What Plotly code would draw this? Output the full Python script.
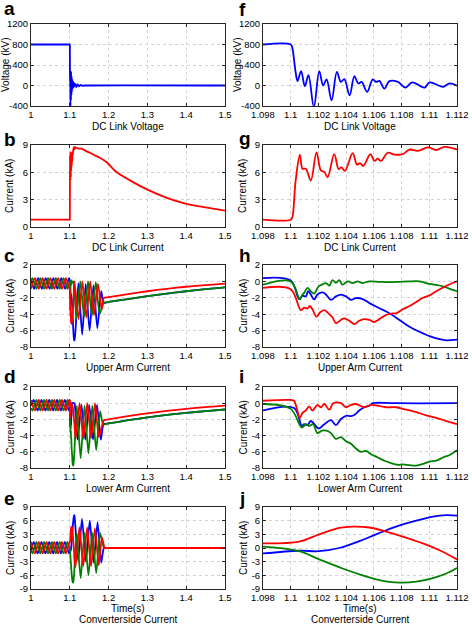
import plotly.graph_objects as go
from plotly.subplots import make_subplots

# ---------------- data ----------------
# f: DC link voltage (zoom)
f_t = [1.098, 1.1, 1.10012, 1.10024, 1.10036, 1.10049, 1.10075, 1.10102, 1.10128, 1.10167, 1.10206,
       1.10234, 1.10259, 1.10295, 1.10333, 1.10362, 1.10387, 1.10425, 1.10459, 1.10488, 1.10512,
       1.10551, 1.10592, 1.10616, 1.1064, 1.10676, 1.10712, 1.10773, 1.10828, 1.10877, 1.10966,
       1.11002, 1.11099, 1.11147, 1.112]
f_v = [800, 800, 730, 500, 250, 85, 280, -13, 200, -420, 280,
       0, 120, -290, 265, 70, 125, -190, 180, 40, 70,
       -125, 120, 70, 90, -60, 85, 70, -40, 60, -40,
       60, -25, 40, -5]
# a: DC link voltage (full)
a_pre_t = [1.0]
a_pre_v = [800]
a_post_t = [1.114, 1.117, 1.12, 1.124, 1.128, 1.133, 1.14, 1.5]
a_post_v = [30, -30, 20, -15, 10, -5, 0, 0]

# g: DC link current (zoom)
g_t = [1.098, 1.1, 1.10012, 1.10035, 1.10066, 1.10085, 1.10109, 1.10145, 1.10186, 1.10218, 1.10242,
       1.10266, 1.10314, 1.10346, 1.10365, 1.10391, 1.10447, 1.10478, 1.105, 1.10524, 1.10575,
       1.10604, 1.10628, 1.10652, 1.107, 1.10749, 1.10809, 1.10857, 1.10918, 1.1099, 1.1105,
       1.11111, 1.112]
g_v = [0.8, 0.8, 1.1, 5.0, 7.9, 6.4, 6.4, 5.1, 8.2, 6.2, 6.05,
       5.45, 8.0, 6.35, 6.55, 6.15, 8.1, 6.85, 7.0, 6.7, 8.0,
       7.25, 7.5, 7.25, 8.15, 7.95, 8.0, 8.5, 8.35, 8.75, 8.45,
       8.8, 8.5]
# b: DC link current (full)
b_pre_t = [1.0]
b_pre_v = [0.8]
b_post_t = [1.115, 1.122, 1.1306, 1.1435, 1.152, 1.165, 1.175, 1.195, 1.221, 1.264, 1.3, 1.35, 1.4, 1.45, 1.5]
b_post_v = [8.75, 8.6, 8.6, 8.3, 8.15, 7.85, 7.65, 7.1, 6.0, 4.9, 4.1, 3.2, 2.55, 2.15, 1.8]

# h: upper arm current (zoom)
h_blue_t = [1.098, 1.1, 1.10061, 1.10085, 1.10109, 1.10126, 1.10145, 1.10169, 1.10193, 1.1023,
            1.10254, 1.1029, 1.10326, 1.10362, 1.10399, 1.10435, 1.10471, 1.10519, 1.10568, 1.1064,
            1.10712, 1.10785, 1.10857, 1.1093, 1.11002, 1.11074, 1.11123, 1.112]
h_blue_v = [0.4, 0.1, -2.15, -1.75, -1.83, -1.2, -1.6, -2.2, -1.6, -1.35,
            -1.6, -2.25, -1.83, -1.62, -1.83, -2.25, -2.03, -2.15, -2.65, -3.27,
            -3.88, -4.7, -5.53, -6.15, -6.68, -7.05, -7.18, -7.1]
h_green_t = [1.098, 1.1, 1.10066, 1.10085, 1.10097, 1.10121, 1.10145, 1.10169, 1.10201, 1.10225,
             1.10254, 1.10278, 1.10302, 1.10326, 1.1035, 1.10374, 1.10411, 1.10447, 1.10483, 1.10519,
             1.10568, 1.1064, 1.10712, 1.10785, 1.10857, 1.1093, 1.11002, 1.11074, 1.11147, 1.112]
h_green_v = [-0.4, 0.0, -2.2, -1.6, -1.4, -0.8, -1.2, -1.5, -0.6, -0.4,
             -0.2, -0.5, 0.15, -0.18, 0.15, -0.4, 0.0, -0.2, 0.0, -0.2,
             0.0, -0.05, -0.1, -0.05, 0.0, 0.0, -0.3, -0.5, -0.9, -1.2]
h_red_t = [1.098, 1.1, 1.10073, 1.10097, 1.10121, 1.10138, 1.10157, 1.10186, 1.1021, 1.10242,
           1.10266, 1.10302, 1.10326, 1.10362, 1.10387, 1.10423, 1.10459, 1.10495, 1.10531, 1.10568,
           1.10604, 1.1064, 1.10688, 1.10736, 1.1076, 1.10809, 1.10857, 1.10906, 1.10954, 1.11002,
           1.1105, 1.11099, 1.11147, 1.112]
h_red_v = [-0.8, -0.95, -3.5, -3.2, -3.3, -3.0, -3.4, -4.3, -3.8, -3.5,
           -3.8, -4.4, -5.1, -4.7, -4.5, -4.8, -5.2, -4.8, -4.6, -4.7,
           -4.95, -4.6, -4.1, -3.9, -3.9, -3.4, -3.0, -2.5, -2.0, -1.7,
           -1.2, -0.75, -0.35, 0.0]
# c: upper arm current (full)
c_blue_pre_t = [1.0, 1.008, 1.018, 1.028, 1.038, 1.048, 1.058, 1.068, 1.078, 1.088]
c_blue_pre_v = [0.3, -0.9, 0.4, -0.9, 0.4, -0.9, 0.4, -0.9, 0.4, -0.9]
c_blue_post_t = [1.113, 1.122, 1.132, 1.141, 1.151, 1.161, 1.171, 1.181, 1.187, 1.2, 1.25, 1.3, 1.35, 1.4, 1.45, 1.5]
c_blue_post_v = [-7.2, -0.2, -6.5, -0.3, -6.0, -0.5, -5.7, -1.2, -2.6, -2.5, -2.15, -1.8, -1.5, -1.2, -0.95, -0.72]
c_green_pre_t = [1.0, 1.004, 1.014, 1.024, 1.034, 1.044, 1.054, 1.064, 1.074, 1.084, 1.094]
c_green_pre_v = [0.1, 0.4, -0.9, 0.4, -0.9, 0.4, -0.9, 0.4, -0.9, 0.4, -0.9]
c_green_post_t = [1.117, 1.127, 1.137, 1.147, 1.157, 1.167, 1.177, 1.187, 1.2, 1.25, 1.3, 1.35, 1.4, 1.45, 1.5]
c_green_post_v = [-4.5, 0.0, -4.3, 0.0, -4.2, -0.1, -4.0, -2.6, -2.5, -2.15, -1.8, -1.5, -1.2, -0.95, -0.72]
c_red_pre_t = [1.0, 1.01, 1.02, 1.03, 1.04, 1.05, 1.06, 1.07, 1.08, 1.09]
c_red_pre_v = [-0.9, 0.4, -0.9, 0.4, -0.9, 0.4, -0.9, 0.4, -0.9, 0.4]
c_red_post_t = [1.1225, 1.1325, 1.1425, 1.1525, 1.1625, 1.1725, 1.1825, 1.188, 1.2, 1.25, 1.3, 1.35, 1.4, 1.45, 1.5]
c_red_post_v = [-4.6, 0.0, -4.4, 0.0, -4.1, -0.3, -3.4, -2.0, -1.93, -1.55, -1.2, -0.9, -0.65, -0.45, -0.27]

# i: lower arm current (zoom)
i_blue_t = [1.098, 1.10024, 1.1008, 1.10097, 1.10121, 1.10145, 1.10201, 1.10242, 1.1029, 1.10326,
            1.10362, 1.10399, 1.10435, 1.10459, 1.10495, 1.10531, 1.10568, 1.10592, 1.10616, 1.1076, 1.112]
i_blue_v = [-0.9, -0.6, -2.8, -2.6, -2.7, -2.2, -3.1, -2.6, -2.1, -2.7,
            -1.95, -1.55, -1.6, -1.45, -0.9, -0.5, -0.3, 0.0, 0.05, 0.0, 0.0]
i_green_t = [1.098, 1.1, 1.1008, 1.10109, 1.10133, 1.10162, 1.10193, 1.10225, 1.10259, 1.1029,
             1.10326, 1.10362, 1.10399, 1.10435, 1.10471, 1.10507, 1.10543, 1.1058, 1.10628, 1.10676,
             1.10724, 1.10773, 1.10809, 1.10857, 1.10906, 1.10954, 1.11002, 1.1105, 1.11099, 1.11147, 1.112]
i_green_v = [-0.1, -0.7, -3.0, -2.6, -2.8, -2.6, -3.7, -3.4, -3.4, -3.7,
             -4.4, -4.2, -4.7, -5.0, -5.6, -6.0, -5.9, -6.3, -6.7, -7.1,
             -7.4, -7.6, -7.55, -7.65, -7.7, -7.5, -7.2, -7.1, -6.7, -6.4, -5.8]
i_red_t = [1.098, 1.1, 1.10024, 1.10066, 1.10085, 1.10109, 1.10133, 1.10157, 1.10193, 1.10218,
           1.10242, 1.10278, 1.10307, 1.10362, 1.10399, 1.10435, 1.10471, 1.10531, 1.1058, 1.10628,
           1.10688, 1.1076, 1.10833, 1.10906, 1.10978, 1.1105, 1.11123, 1.112]
i_red_v = [0.3, 0.4, 0.3, -1.8, -1.2, -0.9, -0.4, -0.9, -0.2, -0.5,
           -0.1, -0.8, 0.0, 0.0, -0.5, -0.2, -0.1, -0.5, -0.2, -0.3,
           -0.5, -0.5, -0.8, -1.1, -1.5, -1.8, -2.2, -2.6]
# d: lower arm current (full)
d_blue_pre_t = [1.0, 1.007, 1.017, 1.027, 1.037, 1.047, 1.057, 1.067, 1.077, 1.087]
d_blue_pre_v = [-0.3, 0.4, -0.9, 0.4, -0.9, 0.4, -0.9, 0.4, -0.9, 0.4]
d_blue_post_t = [1.114, 1.12, 1.13, 1.14, 1.15, 1.16, 1.17, 1.18, 1.187, 1.2, 1.25, 1.3, 1.35, 1.4, 1.45, 1.5]
d_blue_post_v = [-0.8, -4.5, -0.2, -4.5, -0.2, -4.5, -0.2, -4.5, -2.6, -2.5, -2.1, -1.75, -1.45, -1.2, -0.98, -0.78]
d_green_pre_t = [1.0, 1.004, 1.014, 1.024, 1.034, 1.044, 1.054, 1.064, 1.074, 1.084, 1.094]
d_green_pre_v = [-0.6, -0.9, 0.4, -0.9, 0.4, -0.9, 0.4, -0.9, 0.4, -0.9, 0.4]
d_green_post_t = [1.118, 1.128, 1.138, 1.148, 1.158, 1.168, 1.178, 1.186, 1.2, 1.25, 1.3, 1.35, 1.4, 1.45, 1.5]
d_green_post_v = [-0.3, -6.8, -0.3, -6.2, -0.3, -5.8, -1.0, -2.6, -2.5, -2.1, -1.75, -1.45, -1.2, -0.98, -0.78]
d_red_pre_t = [1.0, 1.01, 1.02, 1.03, 1.04, 1.05, 1.06, 1.07, 1.08, 1.09]
d_red_pre_v = [0.4, -0.9, 0.4, -0.9, 0.4, -0.9, 0.4, -0.9, 0.4, -0.9]
d_red_post_t = [1.115, 1.125, 1.135, 1.145, 1.155, 1.165, 1.175, 1.188, 1.2, 1.25, 1.3, 1.35, 1.4, 1.45, 1.5]
d_red_post_v = [-4.4, 0.0, -4.4, 0.0, -4.3, 0.0, -4.2, -2.1, -2.0, -1.6, -1.25, -0.95, -0.7, -0.48, -0.3]

# j: converter side current (zoom)
j_blue_t = [1.098, 1.10061, 1.10206, 1.1035, 1.10495, 1.10616, 1.1076, 1.10906, 1.11026, 1.11123, 1.112]
j_blue_v = [-1.2, -0.6, -0.7, 0.0, 1.5, 3.0, 4.7, 6.0, 6.9, 7.2, 7.1]
j_green_t = [1.098, 1.10061, 1.10206, 1.10374, 1.10519, 1.10664, 1.10785, 1.10906, 1.11026, 1.11123, 1.112]
j_green_v = [0.3, -0.7, -2.5, -4.5, -6.0, -7.2, -7.6, -7.4, -6.6, -5.6, -4.4]
j_red_t = [1.098, 1.10061, 1.10206, 1.1035, 1.10447, 1.10568, 1.10688, 1.10809, 1.10954, 1.11074, 1.112]
j_red_v = [1.0, 1.4, 3.0, 4.4, 4.7, 4.5, 3.6, 2.5, 1.0, -0.5, -2.5]
# e: converter side current (full)
e_blue_pre_t = [1.0, 1.007, 1.017, 1.027, 1.037, 1.047, 1.057, 1.067, 1.077, 1.087]
e_blue_pre_v = [-0.6, 1.35, -1.2, 1.35, -1.2, 1.35, -1.2, 1.35, -1.2, 1.35]
e_blue_post_t = [1.1215, 1.1315, 1.1415, 1.1515, 1.1615, 1.1715, 1.181, 1.188, 1.195, 1.5]
e_blue_post_v = [-2.8, 6.4, -3.0, 6.0, -3.2, 5.6, -3.2, 0.0, 0.0, 0.0]
e_green_pre_t = [1.0, 1.004, 1.014, 1.024, 1.034, 1.044, 1.054, 1.064, 1.074, 1.084, 1.094]
e_green_pre_v = [-0.5, -1.2, 1.35, -1.2, 1.35, -1.2, 1.35, -1.2, 1.35, -1.2, 1.35]
e_green_post_t = [1.118, 1.128, 1.138, 1.148, 1.158, 1.168, 1.178, 1.188, 1.195, 1.5]
e_green_post_v = [3.2, -6.6, 3.3, -6.0, 3.3, -5.5, 3.3, 0.0, 0.0, 0.0]
e_red_pre_t = [1.0, 1.01, 1.02, 1.03, 1.04, 1.05, 1.06, 1.07, 1.08, 1.09]
e_red_pre_v = [1.35, -1.2, 1.35, -1.2, 1.35, -1.2, 1.35, -1.2, 1.35, -1.2]
e_red_post_t = [1.1147, 1.1247, 1.1347, 1.1447, 1.1547, 1.1647, 1.1747, 1.1827, 1.19, 1.195, 1.5]
e_red_post_v = [-4.2, 4.5, -4.0, 4.5, -4.0, 4.3, -3.8, 2.3, 0.0, 0.0, 0.0]

# ticks
left_xticks = [1.0, 1.1, 1.2, 1.3, 1.4, 1.5]
left_xtext = ["1", "1.1", "1.2", "1.3", "1.4", "1.5"]
right_xticks = [1.098, 1.1, 1.102, 1.104, 1.106, 1.108, 1.11, 1.112]
right_xtext = ["1.098", "1.1", "1.102", "1.104", "1.106", "1.108", "1.11", "1.112"]
volt_ticks = [-400, 0, 400, 800, 1200]
volt_text = ["-400", "0", "400", "800", "1200"]
dc_ticks = [0, 3, 6, 9]
dc_text = ["0", "3", "6", "9"]
arm_ticks = [-8, -6, -4, -2, 0, 2]
arm_text = ["-8", "-6", "-4", "-2", "0", "2"]
conv_ticks = [-9, -6, -3, 0, 3, 6, 9]
conv_text = ["-9", "-6", "-3", "0", "3", "6", "9"]

subtitles = ["DC Link Voltage", "DC Link Current", "Upper Arm Current", "Lower Arm Current",
             "Converterside Current"]
time_label = "Time(s)"
letters_left = ["a", "b", "c", "d", "e"]
letters_right = ["f", "g", "h", "i", "j"]

BLUE, GREEN, RED = "#0000ff", "#008000", "#ff0000"
FONT = "Liberation Sans, Arial, sans-serif"

# ---------------- figure ----------------
W, H = 472, 625
fig = make_subplots(rows=5, cols=2)

def line(t, v, color, row, col, width=1.8, smoothing=0.6):
    fig.add_trace(go.Scatter(x=t, y=v, mode="lines", showlegend=False, hoverinfo="skip",
                             line=dict(color=color, width=width, shape="spline", smoothing=smoothing)),
                  row=row, col=col)

# row 1
line(a_pre_t + f_t + a_post_t, a_pre_v + f_v + a_post_v, BLUE, 1, 1)
line(f_t, f_v, BLUE, 1, 2, smoothing=1.0)
# row 2
line(b_pre_t + g_t + b_post_t, b_pre_v + g_v + b_post_v, RED, 2, 1)
line(g_t, g_v, RED, 2, 2, smoothing=1.0)
# row 3
line(c_blue_pre_t + h_blue_t + c_blue_post_t, c_blue_pre_v + h_blue_v + c_blue_post_v, BLUE, 3, 1)
line(c_green_pre_t + h_green_t + c_green_post_t, c_green_pre_v + h_green_v + c_green_post_v, GREEN, 3, 1)
line(c_red_pre_t + h_red_t + c_red_post_t, c_red_pre_v + h_red_v + c_red_post_v, RED, 3, 1)
line(h_blue_t, h_blue_v, BLUE, 3, 2, smoothing=1.0)
line(h_green_t, h_green_v, GREEN, 3, 2, smoothing=1.0)
line(h_red_t, h_red_v, RED, 3, 2, smoothing=1.0)
# row 4
line(d_blue_pre_t + i_blue_t + d_blue_post_t, d_blue_pre_v + i_blue_v + d_blue_post_v, BLUE, 4, 1)
line(d_green_pre_t + i_green_t + d_green_post_t, d_green_pre_v + i_green_v + d_green_post_v, GREEN, 4, 1)
line(d_red_pre_t + i_red_t + d_red_post_t, d_red_pre_v + i_red_v + d_red_post_v, RED, 4, 1)
line(i_blue_t, i_blue_v, BLUE, 4, 2, smoothing=1.0)
line(i_green_t, i_green_v, GREEN, 4, 2, smoothing=1.0)
line(i_red_t, i_red_v, RED, 4, 2, smoothing=1.0)
# row 5
line(e_blue_pre_t + j_blue_t + e_blue_post_t, e_blue_pre_v + j_blue_v + e_blue_post_v, BLUE, 5, 1)
line(e_green_pre_t + j_green_t + e_green_post_t, e_green_pre_v + j_green_v + e_green_post_v, GREEN, 5, 1)
line(e_red_pre_t + j_red_t + e_red_post_t, e_red_pre_v + j_red_v + e_red_post_v, RED, 5, 1)
line(j_blue_t, j_blue_v, BLUE, 5, 2, smoothing=1.0)
line(j_green_t, j_green_v, GREEN, 5, 2, smoothing=1.0)
line(j_red_t, j_red_v, RED, 5, 2, smoothing=1.0)

ROWS = [(24, 106), (145, 227), (265, 347), (387, 468), (507, 589)]
COLS = [(31, 225), (263, 457)]
yspecs = [([-400, 1200], volt_ticks, volt_text, "Voltage (kV)"),
          ([0, 9], dc_ticks, dc_text, "Current (kA)"),
          ([-8, 2], arm_ticks, arm_text, "Current (kA)"),
          ([-8, 2], arm_ticks, arm_text, "Current (kA)"),
          ([-9, 9], conv_ticks, conv_text, "Current (kA)")]

common = dict(showgrid=True, gridcolor="#d4d4d4", griddash="dot", gridwidth=1,
              showline=True, linecolor="#262626", linewidth=1, mirror="ticks",
              ticks="inside", ticklen=3, tickcolor="#262626", zeroline=False,
              automargin=False, tickangle=0,
              tickfont=dict(family=FONT, size=9.5, color="black"))

annotations = []
for r in range(5):
    top, bot = ROWS[r]
    yr, yt, ytx, ytitle = yspecs[r]
    for c in range(2):
        n = r * 2 + c + 1
        sfx = "" if n == 1 else str(n)
        x0, x1 = COLS[c]
        xr = [1.0, 1.5] if c == 0 else [1.098, 1.112]
        xt, xtx = (left_xticks, left_xtext) if c == 0 else (right_xticks, right_xtext)
        fig.layout["xaxis" + sfx].update(domain=[x0 / W, x1 / W], range=xr, tickvals=xt,
                                         ticktext=xtx, **common)
        fig.layout["yaxis" + sfx].update(domain=[1 - bot / H, 1 - top / H], range=yr,
                                         tickvals=yt, ticktext=ytx, **common)
        xc = (x0 + x1) / 2 / W
        if r < 4:
            annotations.append(dict(text=subtitles[r], x=xc, y=1 - (bot + 20) / H,
                                    xref="paper", yref="paper", xanchor="center", yanchor="middle",
                                    showarrow=False, font=dict(family=FONT, size=10, color="black")))
        else:
            annotations.append(dict(text=time_label, x=xc, y=1 - (bot + 19) / H,
                                    xref="paper", yref="paper", xanchor="center", yanchor="middle",
                                    showarrow=False, font=dict(family=FONT, size=10, color="black")))
            annotations.append(dict(text=subtitles[r], x=xc, y=1 - (bot + 30) / H,
                                    xref="paper", yref="paper", xanchor="center", yanchor="middle",
                                    showarrow=False, font=dict(family=FONT, size=10, color="black")))
        if r == 0:
            ytx_px = 6 if c == 0 else 238
        else:
            ytx_px = 10 if c == 0 else 243
        annotations.append(dict(text=ytitle, x=ytx_px / W, y=1 - (top + bot) / 2 / H,
                                xref="paper", yref="paper", xanchor="center", yanchor="middle",
                                textangle=-90, showarrow=False,
                                font=dict(family=FONT, size=10, color="black")))

base_left = [15, 146, 262, 383, 505]
base_right = [16, 145, 262, 383, 505]
for r in range(5):
    annotations.append(dict(text="<b>%s</b>" % letters_left[r], x=2 / W, y=1 - (base_left[r] - 6.5) / H,
                            xref="paper", yref="paper", xanchor="left", yanchor="middle",
                            showarrow=False, font=dict(family=FONT, size=19, color="black")))
    annotations.append(dict(text="<b>%s</b>" % letters_right[r], x=237 / W, y=1 - (base_right[r] - 6.5) / H,
                            xref="paper", yref="paper", xanchor="left", yanchor="middle",
                            showarrow=False, font=dict(family=FONT, size=19, color="black")))

fig.update_layout(width=W, height=H, margin=dict(l=0, r=0, t=0, b=0, autoexpand=False),
                  paper_bgcolor="white", plot_bgcolor="white",
                  annotations=annotations, font=dict(family=FONT, size=10, color="black"))

fig.write_html("out.html", config={"displayModeBar": False},
               post_script="document.body.style.margin='0';document.body.style.padding='0';"
                           "document.body.style.overflow='hidden';")
